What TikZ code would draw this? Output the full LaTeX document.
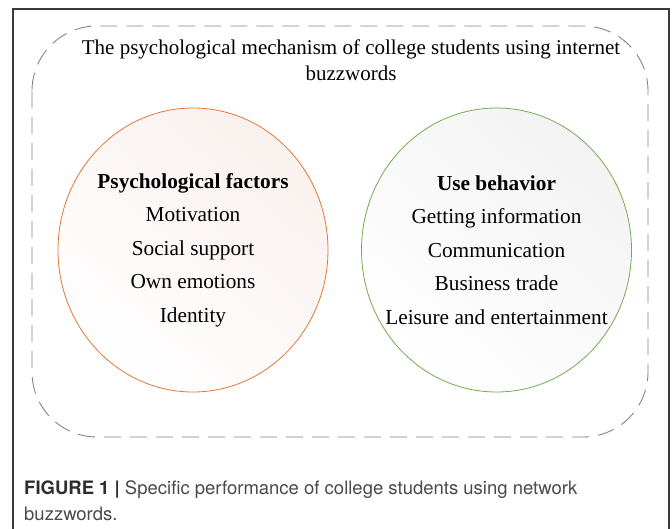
\documentclass[tikz,border=0pt]{standalone}
\usepackage{fontspec}
\setmainfont{Liberation Serif}
\newfontfamily\capfont{TeX Gyre Heros}
\usetikzlibrary{shapes.geometric}
\definecolor{frameC}{HTML}{3A3A3A}
\definecolor{dashC}{HTML}{858585}
\definecolor{orangeC}{HTML}{E2773A}
\definecolor{greenC}{HTML}{74AD4E}
\definecolor{pinkF}{HTML}{F9F1EE}
\definecolor{greyF}{HTML}{F3F3F3}
\definecolor{capDark}{HTML}{2E2E2E}
\definecolor{capText}{HTML}{4A4A4A}
\tikzset{
  outerframe/.style={draw=frameC, line width=1.1pt},
  dashbox/.style={draw=dashC, line width=0.9pt, dash pattern=on 17pt off 9pt, rounded corners=65pt},
  bubble/.style={ellipse, minimum width=270pt, minimum height=284pt, line width=0.8pt, inner sep=0pt},
  bubbletext/.style={align=center, font=\fontsize{21.3}{33.5}\selectfont, inner sep=0pt},
  titletext/.style={align=center, font=\fontsize{21}{26.5}\selectfont, inner sep=0pt},
}
\begin{document}
\begin{tikzpicture}[x=1pt,y=-1pt]
\useasboundingbox (0,0) rectangle (672,529);
\fill[white] (0,0) rectangle (672,529);
\draw[outerframe] (13,529) -- (13,9) -- (669,9) -- (669,529);
\draw[dashbox] (32,26) rectangle (648,437);
\node[titletext] (title) at (351,60) {The psychological mechanism of college students using internet\\buzzwords};
\node[bubble, draw=orangeC, shading=axis, top color=pinkF, bottom color=white, shading angle=-40] (pf) at (193,250) {};
\node[bubble, draw=greenC, shading=axis, top color=greyF, bottom color=white, shading angle=-40] (ub) at (496.5,250) {};
\node[bubbletext] (pft) at (pf.center) {\textbf{Psychological factors}\\Motivation\\Social support\\Own emotions\\Identity};
\node[bubbletext] (ubt) at (ub.center) {\textbf{Use behavior}\\Getting information\\Communication\\Business trade\\Leisure and entertainment};
\node[anchor=north west, align=left, inner sep=0pt, font=\capfont\fontsize{18.5}{26}\selectfont, color=capText] (cap) at (24,480) {\textcolor{capDark}{\textbf{FIGURE 1}} \textcolor{capDark}{\textbf{|}} Specific performance of college students using network\\buzzwords.};
\end{tikzpicture}
\end{document}
